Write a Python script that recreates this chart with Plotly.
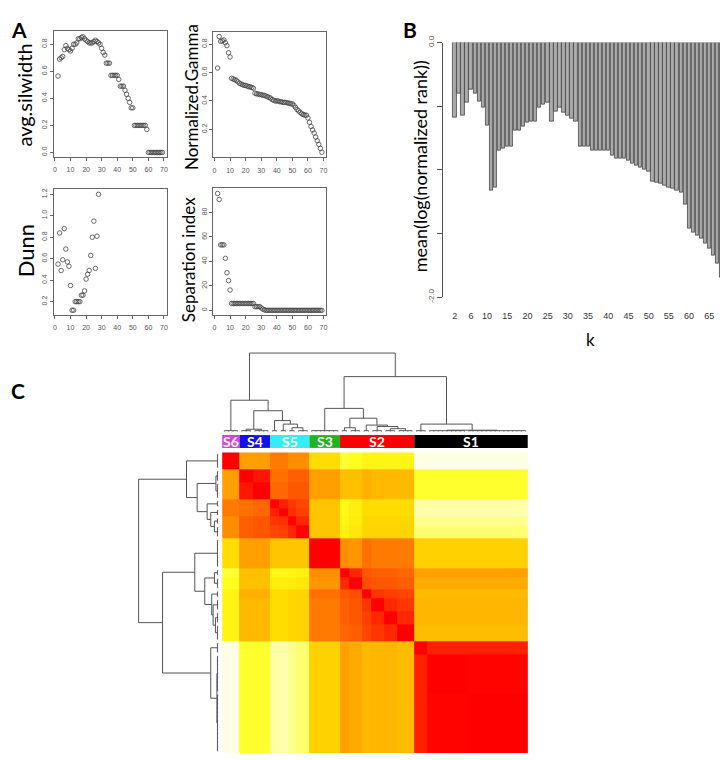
import numpy as np
import plotly.graph_objects as go

# page body has an 8px margin: the figure is laid out in page pixels and shifted by it
OFF = 8
W, H = 720, 752

# ---------------- Panel A data ----------------
k_all = list(range(2, 70))
avg_silwidth = [0.565, 0.69, 0.70, 0.71, 0.76, 0.79, 0.77, 0.76, 0.75, 0.77, 0.80, 0.80, 0.81, 0.84, 0.84,
                0.85, 0.855, 0.84, 0.83, 0.82, 0.81, 0.81, 0.81, 0.82, 0.83, 0.82, 0.81, 0.80, 0.77, 0.74,
                0.72, 0.66, 0.66, 0.66, 0.57, 0.57, 0.57, 0.57, 0.57, 0.54, 0.49, 0.49, 0.49, 0.46, 0.43,
                0.40, 0.37, 0.33, 0.33, 0.20, 0.20, 0.20, 0.20, 0.20, 0.20, 0.20, 0.20, 0.17, 0.0, 0.0,
                0.0, 0.0, 0.0, 0.0, 0.0, 0.0, 0.0, 0.0]
norm_gamma = [0.632, 0.854, 0.82, 0.824, 0.83, 0.81, 0.79, 0.74, 0.71, 0.56, 0.555, 0.55, 0.545, 0.535,
              0.525, 0.52, 0.515, 0.51, 0.51, 0.505, 0.50, 0.50, 0.495, 0.49, 0.455, 0.45, 0.45, 0.445,
              0.445, 0.44, 0.44, 0.435, 0.43, 0.425, 0.42, 0.41, 0.405, 0.40, 0.40, 0.40, 0.395, 0.395,
              0.39, 0.39, 0.39, 0.385, 0.385, 0.38, 0.38, 0.37, 0.355, 0.34, 0.33, 0.32, 0.31, 0.305,
              0.30, 0.30, 0.28, 0.25, 0.22, 0.196, 0.174, 0.146, 0.12, 0.094, 0.066, 0.039]
k_dunn = list(range(2, 29))
dunn = [0.55, 0.84, 0.49, 0.59, 0.88, 0.69, 0.57, 0.53, 0.35, 0.12, 0.12, 0.20, 0.20, 0.20, 0.20,
        0.26, 0.26, 0.30, 0.41, 0.455, 0.49, 0.63, 0.80, 0.95, 0.51, 0.81, 1.20]
sep_index = [95.5, 90.6, 53.5, 53.5, 53.5, 42.5, 30.7, 24.3, 16.6] + [5.6] * 15 + [3.0] * 4 + \
            [2.0, 1.0, 0.4] + [0.0] * 37

# ---------------- Panel B data ----------------
rank_vals = [-0.59, -0.40, -0.57, -0.47, -0.37, -0.40, -0.46, -0.51, -0.65, -1.16, -1.14, -0.85, -0.83,
             -0.82, -0.82, -0.69, -0.69, -0.66, -0.63, -0.62, -0.62, -0.51, -0.49, -0.47, -0.62, -0.54,
             -0.51, -0.55, -0.57, -0.60, -0.62, -0.82, -0.82, -0.82, -0.85, -0.85, -0.85, -0.85, -0.85,
             -0.89, -0.91, -0.91, -0.91, -0.93, -0.95, -0.97, -0.98, -1.00, -1.01, -1.09, -1.10, -1.11,
             -1.12, -1.14, -1.15, -1.16, -1.18, -1.27, -1.46, -1.49, -1.52, -1.54, -1.58, -1.62, -1.67,
             -1.74, -1.85, -2.00]
b_ticks = [2, 6, 10, 15, 20, 25, 30, 35, 40, 45, 50, 55, 60, 65]

# ---------------- Panel C data ----------------
group_names = ["S6", "S4", "S5", "S3", "S2", "S1"]
group_sizes = [4, 7, 9, 7, 17, 26]
group_colors = ["#DD3EDD", "#1212E8", "#33EEFA", "#1FB51F", "#FF0000", "#000000"]
# sub-blocks (ordered): a | b1 b2 | c1 c2 c3 c4 | d | e1..e6 | f1 f2 f3
block_sizes = [4, 3, 4, 2, 2, 2, 3, 7, 2, 3, 2, 3, 3, 4, 3, 9, 14]
consensus = [
    [1.00, 0.60, 0.60, 0.68, 0.68, 0.64, 0.64, 0.40, 0.27, 0.30, 0.33, 0.33, 0.33, 0.33, 0.02, 0.02, 0.02],
    [0.60, 1.00, 0.93, 0.70, 0.70, 0.74, 0.74, 0.60, 0.50, 0.50, 0.55, 0.52, 0.52, 0.52, 0.28, 0.28, 0.28],
    [0.60, 0.93, 1.00, 0.72, 0.72, 0.76, 0.76, 0.60, 0.50, 0.50, 0.55, 0.52, 0.52, 0.52, 0.28, 0.28, 0.28],
    [0.68, 0.70, 0.72, 1.00, 0.90, 0.84, 0.80, 0.48, 0.32, 0.35, 0.40, 0.40, 0.40, 0.40, 0.12, 0.12, 0.12],
    [0.68, 0.70, 0.72, 0.90, 1.00, 0.86, 0.82, 0.48, 0.32, 0.35, 0.40, 0.40, 0.40, 0.40, 0.10, 0.10, 0.10],
    [0.64, 0.74, 0.76, 0.84, 0.86, 1.00, 0.88, 0.48, 0.33, 0.36, 0.42, 0.42, 0.42, 0.42, 0.15, 0.15, 0.15],
    [0.64, 0.74, 0.76, 0.80, 0.82, 0.88, 1.00, 0.48, 0.34, 0.37, 0.43, 0.43, 0.43, 0.43, 0.20, 0.20, 0.20],
    [0.40, 0.60, 0.60, 0.48, 0.48, 0.48, 0.48, 1.00, 0.64, 0.62, 0.70, 0.68, 0.68, 0.68, 0.44, 0.44, 0.44],
    [0.27, 0.50, 0.50, 0.32, 0.32, 0.33, 0.34, 0.64, 1.00, 0.88, 0.76, 0.74, 0.74, 0.72, 0.60, 0.60, 0.60],
    [0.30, 0.50, 0.50, 0.35, 0.35, 0.36, 0.37, 0.62, 0.88, 1.00, 0.78, 0.76, 0.76, 0.74, 0.57, 0.57, 0.57],
    [0.33, 0.55, 0.55, 0.40, 0.40, 0.42, 0.43, 0.70, 0.76, 0.78, 1.00, 0.84, 0.82, 0.80, 0.52, 0.52, 0.52],
    [0.33, 0.52, 0.52, 0.40, 0.40, 0.42, 0.43, 0.68, 0.74, 0.76, 0.84, 1.00, 0.88, 0.84, 0.53, 0.53, 0.53],
    [0.33, 0.52, 0.52, 0.40, 0.40, 0.42, 0.43, 0.68, 0.74, 0.76, 0.82, 0.88, 1.00, 0.88, 0.53, 0.53, 0.53],
    [0.33, 0.52, 0.52, 0.40, 0.40, 0.42, 0.43, 0.68, 0.72, 0.74, 0.80, 0.84, 0.88, 1.00, 0.51, 0.51, 0.51],
    [0.02, 0.28, 0.28, 0.12, 0.10, 0.15, 0.20, 0.44, 0.60, 0.57, 0.52, 0.53, 0.53, 0.51, 1.00, 0.90, 0.90],
    [0.02, 0.28, 0.28, 0.12, 0.10, 0.15, 0.20, 0.44, 0.60, 0.57, 0.52, 0.53, 0.53, 0.51, 0.90, 1.00, 0.99],
    [0.02, 0.28, 0.28, 0.12, 0.10, 0.15, 0.20, 0.44, 0.60, 0.57, 0.52, 0.53, 0.53, 0.51, 0.90, 0.99, 1.00],
]
# linkage over blocks: (left id, right id, merge height); new ids start at len(block_sizes)
linkage = [
    (1, 2, 2.5), (5, 6, 4.0), (4, 18, 7.7), (3, 19, 11.3), (17, 20, 21.3), (0, 21, 32.0),
    (8, 9, 4.0), (12, 13, 3.0), (11, 24, 5.3), (10, 25, 6.7), (23, 26, 13.7), (7, 27, 23.7),
    (15, 16, 1.5), (14, 29, 7.7), (28, 30, 56.0), (22, 31, 80.0),
]
leaf_height = 1.0

heat_scale = [[0.0, "#FFFFF2"], [0.1, "#FFFFB0"], [0.2, "#FFFF70"], [0.3, "#FFFF1E"], [0.4, "#FFDD00"],
              [0.5, "#FFC000"], [0.6, "#FFA000"], [0.7, "#FF7000"], [0.8, "#FF4500"], [0.9, "#FF2000"],
              [1.0, "#FF0000"]]


def fx(x):
    return (x - OFF) / W


def fy(y):
    return 1 - (y - OFF) / H


def px(x0, x1):
    return [fx(x0), fx(x1)]


def py(y0, y1):  # pixel rows (top, bottom) -> paper domain
    return [fy(y1), fy(y0)]


def dendro(sizes, merges, leaf_h):
    edges = np.concatenate([[0], np.cumsum(sizes)])
    pos, hgt, pts_p, pts_h = {}, {}, [], []

    def seg(p0, h0, p1, h1):
        pts_p.extend([p0, p1, None])
        pts_h.extend([h0, h1, None])

    for i, n in enumerate(sizes):
        centers = edges[i] + 0.5 + np.arange(n)
        for c in centers:
            seg(c, 0, c, leaf_h)
        seg(centers[0], leaf_h, centers[-1], leaf_h)
        pos[i], hgt[i] = float(centers.mean()), leaf_h
    nid = len(sizes)
    for l, r, h in merges:
        seg(pos[l], hgt[l], pos[l], h)
        seg(pos[r], hgt[r], pos[r], h)
        seg(pos[l], h, pos[r], h)
        pos[nid], hgt[nid] = (pos[l] + pos[r]) / 2, h
        nid += 1
    return pts_p, pts_h


fig = go.Figure()
tickfont = dict(family="Liberation Sans, Arial", size=7, color="#555")
mk = dict(symbol="circle-open", size=4.5, color="#444", line=dict(width=0.8, color="#444"))

fig.add_trace(go.Scatter(x=k_all, y=avg_silwidth, mode="markers", marker=mk, xaxis="x", yaxis="y"))
fig.add_trace(go.Scatter(x=k_all, y=norm_gamma, mode="markers", marker=mk, xaxis="x2", yaxis="y2"))
fig.add_trace(go.Scatter(x=k_dunn, y=dunn, mode="markers", marker=mk, xaxis="x3", yaxis="y3"))
fig.add_trace(go.Scatter(x=k_all, y=sep_index, mode="markers", marker=mk, xaxis="x4", yaxis="y4"))

fig.add_trace(go.Bar(x=k_all, y=rank_vals, width=0.82, marker=dict(color="#ABABAB",
                                                                      line=dict(color="#333", width=0.7)),
                     xaxis="x5", yaxis="y5"))

edges = np.concatenate([[0], np.cumsum(block_sizes)])
fig.add_trace(go.Heatmap(z=consensus, x=edges, y=edges, colorscale=heat_scale, zmin=0, zmax=1,
                         showscale=False, xaxis="x6", yaxis="y6", hoverinfo="skip"))

dp, dh = dendro(block_sizes, linkage, leaf_height)
dcol = dict(color="#555", width=1)
fig.add_trace(go.Scatter(x=dp, y=dh, mode="lines", line=dcol, xaxis="x7", yaxis="y7", cliponaxis=False))
fig.add_trace(go.Scatter(x=dh, y=dp, mode="lines", line=dcol, xaxis="x8", yaxis="y8", cliponaxis=False))


def a_axes(n, xdom, ydom, yr, yt, ytt):
    xa = dict(domain=xdom, range=[-0.68, 71.68], tickvals=[0, 10, 20, 30, 40, 50, 60, 70], anchor="y%s" % n,
              showline=True, mirror=True, linecolor="#666", linewidth=1, ticks="outside", ticklen=3,
              tickcolor="#666", tickfont=tickfont, showgrid=False, zeroline=False, ticklabelstandoff=3)
    ya = dict(domain=ydom, range=yr, tickvals=yt, ticktext=ytt, tickangle=-90, anchor="x%s" % n,
              showline=True, mirror=True, linecolor="#666", linewidth=1, ticks="outside", ticklen=3,
              tickcolor="#666", tickfont=tickfont, showgrid=False, zeroline=False)
    return xa, ya


xa1, ya1 = a_axes("", px(53, 166), py(24, 152), [-0.03, 0.9], [0, 0.2, 0.4, 0.6, 0.8],
                  ["0.0", "0.2", "0.4", "0.6", "0.8"])
xa2, ya2 = a_axes(2, px(213, 326), py(25, 153), [0.002, 0.888], [0.2, 0.4, 0.6, 0.8],
                  ["0.2", "0.4", "0.6", "0.8"])
xa3, ya3 = a_axes(3, px(53, 166), py(185, 313), [0.078, 1.25], [0.2, 0.4, 0.6, 0.8, 1.0, 1.2],
                  ["0.2", "0.4", "0.6", "0.8", "1.0", "1.2"])
xa4, ya4 = a_axes(4, px(213, 326), py(184, 313), [-3.6, 100], [0, 20, 40, 60, 80],
                  ["0", "20", "40", "60", "80"])

hidden = dict(showgrid=False, zeroline=False, showticklabels=False, ticks="", showline=False)

fig.update_layout(
    width=W, height=H, margin=dict(l=0, r=0, t=0, b=0), paper_bgcolor="white", plot_bgcolor="white",
    showlegend=False, bargap=0,
    xaxis=xa1, yaxis=ya1, xaxis2=xa2, yaxis2=ya2, xaxis3=xa3, yaxis3=ya3, xaxis4=xa4, yaxis4=ya4,
    xaxis5=dict(domain=px(443, 728), range=[-0.96, 69.4], tickvals=b_ticks, showgrid=False, anchor="y5",
                zeroline=False, showline=False, ticks="", ticklabelstandoff=12,
                tickfont=dict(family="Liberation Sans, Arial", size=9, color="#333")),
    yaxis5=dict(domain=py(36, 295), range=[-2, 0], tickvals=[0, -0.5, -1, -1.5, -2], anchor="x5",
                ticktext=["0.0", "", "", "", "-2.0"], tickangle=-90, showline=True, linecolor="#555",
                linewidth=1, ticks="outside", ticklen=5, tickcolor="#555", showgrid=False, zeroline=False,
                tickfont=dict(family="Liberation Sans, Arial", size=8, color="#555")),
    xaxis6=dict(domain=px(221.7, 528.3), range=[0, 70], anchor="y6", **hidden),
    yaxis6=dict(domain=py(453, 759), range=[70, 0], anchor="x6", **hidden),
    xaxis7=dict(domain=px(221.7, 528.3), range=[0, 70], anchor="y7", **hidden),
    yaxis7=dict(domain=py(350, 432), range=[0, 82], anchor="x7", **hidden),
    xaxis8=dict(domain=px(136, 218), range=[82, 0], anchor="y8", **hidden),
    yaxis8=dict(domain=py(453, 759), range=[70, 0], anchor="x8", **hidden),
)

# colour bar above heatmap
gedges = np.concatenate([[0], np.cumsum(group_sizes)])
shapes = []
anns = []
for i, name in enumerate(group_names):
    shapes.append(dict(type="rect", xref="x6", yref="paper", x0=gedges[i], x1=gedges[i + 1],
                       y0=fy(448.5), y1=fy(435.5), fillcolor=group_colors[i], line=dict(width=0)))
    anns.append(dict(xref="x6", yref="paper", x=(gedges[i] + gedges[i + 1]) / 2, y=fy(442),
                     text="<b>%s</b>" % name, showarrow=False, xanchor="center", yanchor="middle",
                     font=dict(family="Lato", size=14, color="white")))
fig.update_layout(shapes=shapes)

label_font = dict(family="Lato", color="black")


def lab(x, y, text, size, angle=0, bold=False, xanchor="center", yanchor="middle"):
    anns.append(dict(xref="paper", yref="paper", x=fx(x), y=fy(y), text=("<b>%s</b>" % text) if bold else text,
                     showarrow=False, textangle=angle, xanchor=xanchor, yanchor=yanchor,
                     font=dict(label_font, size=size)))


lab(8, 8, "A", 21, bold=True, xanchor="left", yanchor="top")
lab(401, 8, "B", 21, bold=True, xanchor="left", yanchor="top")
lab(8, 390, "C", 21, bold=True, xanchor="left")
lab(9, 89, "avg.silwidth", 20, -90, xanchor="left")
lab(191, 91, "Normalized.Gamma", 17, -90)
lab(9, 248, "Dunn", 22, -90, xanchor="left")
lab(188, 257, "Separation index", 17, -90)
lab(420, 162, "mean(log(normalized rank))", 18, -90)
lab(591, 338, "k", 17)
fig.update_layout(annotations=anns)

fig.write_html("out.html")
